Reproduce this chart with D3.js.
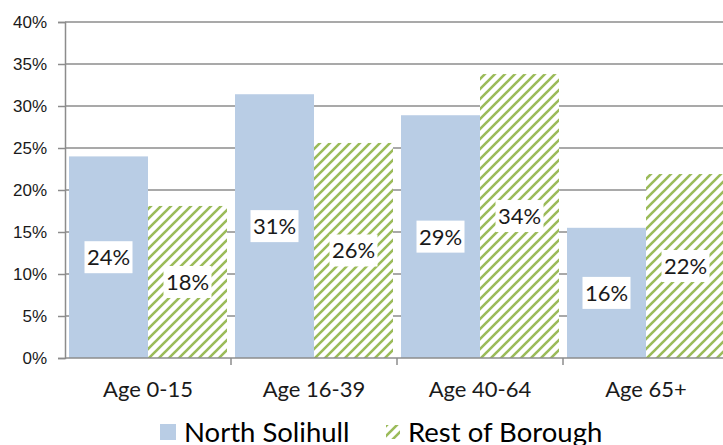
<!DOCTYPE html>
<html>
<head>
	<meta charset="utf-8">
	<script src="https://d3js.org/d3.v7.min.js"></script>
	<style>
		body { margin: 0; background: #fff; }
		svg { display: block; font-family: Lato, "Open Sans", sans-serif; }
		.grid line { stroke: #8c8c8c; stroke-width: 1.5; }
		.axis path, .axis line { stroke: #8c8c8c; stroke-width: 1.5; }
		.axis text { fill: #1a1a1a; }
	</style>
</head>
<body>
	<svg width="723" height="445"></svg>
	<script>
		var categories = ["Age 0-15", "Age 16-39", "Age 40-64", "Age 65+"];
		var northSolihull = [24.0, 31.4, 28.9, 15.5];
		var restOfBorough = [18.1, 25.6, 33.8, 21.9];
		var seriesNames = ["North Solihull", "Rest of Borough"];
		var yTicks = [0, 5, 10, 15, 20, 25, 30, 35, 40];

		var svg = d3.select("svg"),
		margin = {top: 22, right: -6, bottom: 87, left: 65},
		width = +svg.attr("width") - margin.left - margin.right,
		height = +svg.attr("height") - margin.top - margin.bottom;

		var defs = svg.append("defs");
		defs.append("pattern")
		.attr("id", "hatch")
		.attr("patternUnits", "userSpaceOnUse")
		.attr("width", 10).attr("height", 10)
		.call(function(p) {
			p.append("rect").attr("width", 10).attr("height", 10).attr("fill", "#fff");
			p.append("path")
			.attr("d", "M-3,3 L3,-3 M0,10 L10,0 M7,13 L13,7")
			.attr("stroke", "#9bbb59")
			.attr("stroke-width", 2.6);
		});

		var x = d3.scaleBand().domain(categories).range([0, width]).paddingInner(0).paddingOuter(0);
		var x1 = d3.scaleBand().domain(seriesNames).range([4, x.bandwidth() - 4]);
		var y = d3.scaleLinear().domain([0, 40]).range([height, 0]);

		var g = svg.append("g")
		.attr("transform", "translate(" + margin.left + "," + margin.top + ")");

		// gridlines
		g.append("g")
		.attr("class", "grid")
		.selectAll("line")
		.data(yTicks.slice(1))
		.enter().append("line")
		.attr("x1", 0).attr("x2", width)
		.attr("y1", function(d) { return y(d); })
		.attr("y2", function(d) { return y(d); });

		var data = categories.map(function(c, i) {
			return {cat: c, vals: [
				{s: seriesNames[0], v: northSolihull[i]},
				{s: seriesNames[1], v: restOfBorough[i]}
			]};
		});

		var grp = g.selectAll(".grp")
		.data(data)
		.enter().append("g")
		.attr("transform", function(d) { return "translate(" + x(d.cat) + ",0)"; });

		grp.selectAll("rect")
		.data(function(d) { return d.vals; })
		.enter().append("rect")
		.attr("x", function(d) { return x1(d.s); })
		.attr("width", x1.bandwidth())
		.attr("y", function(d) { return y(d.v); })
		.attr("height", function(d) { return height - y(d.v); })
		.attr("fill", function(d) { return d.s === seriesNames[0] ? "#b9cde5" : "url(#hatch)"; });

		// data labels
		var lab = grp.selectAll(".lab")
		.data(function(d) { return d.vals; })
		.enter().append("g")
		.attr("class", "lab")
		.attr("transform", function(d) {
			return "translate(" + (x1(d.s) + x1.bandwidth() / 2) + "," + ((y(d.v) + height) / 2) + ")";
		});
		lab.append("rect")
		.attr("x", -24).attr("y", -16).attr("width", 48).attr("height", 32)
		.attr("fill", "#fff");
		lab.append("text")
		.attr("text-anchor", "middle")
		.attr("dy", "0.36em")
		.style("font-size", "22px")
		.attr("fill", "#1a1a1a")
		.text(function(d) { return Math.round(d.v) + "%"; });

		// axes
		g.append("g")
		.attr("class", "axis axis--y")
		.call(d3.axisLeft(y).tickValues(yTicks).tickSize(7).tickPadding(11).tickFormat(function(d) { return d + "%"; }))
		.call(function(a) { a.selectAll("text").style("font-size", "17px"); });

		var xa = g.append("g")
		.attr("class", "axis axis--x")
		.attr("transform", "translate(0," + height + ")");
		xa.append("line").attr("x1", 0).attr("x2", width).attr("y1", 0).attr("y2", 0);
		xa.selectAll(".tk")
		.data(categories.slice(1))
		.enter().append("line")
		.attr("x1", function(d) { return x(d); }).attr("x2", function(d) { return x(d); })
		.attr("y1", 0).attr("y2", 7);
		xa.selectAll(".cl")
		.data(categories)
		.enter().append("text")
		.attr("x", function(d) { return x(d) + x.bandwidth() / 2; })
		.attr("y", 31)
		.attr("dy", "0.36em")
		.attr("text-anchor", "middle")
		.style("font-size", "22px")
		.text(function(d) { return d; });

		// legend
		var leg = svg.append("g").attr("transform", "translate(160,432)");
		leg.append("rect").attr("x", 0).attr("y", -8).attr("width", 16).attr("height", 16).attr("fill", "#b9cde5");
		leg.append("text").attr("x", 24).attr("dy", "0.36em").style("font-size", "27.5px").text(seriesNames[0]);
		leg.append("rect").attr("x", 226).attr("y", -7).attr("width", 14).attr("height", 14).attr("fill", "url(#hatch)");
		leg.append("text").attr("x", 248).attr("dy", "0.36em").style("font-size", "27.5px").text(seriesNames[1]);
	</script>
</body>
</html>
